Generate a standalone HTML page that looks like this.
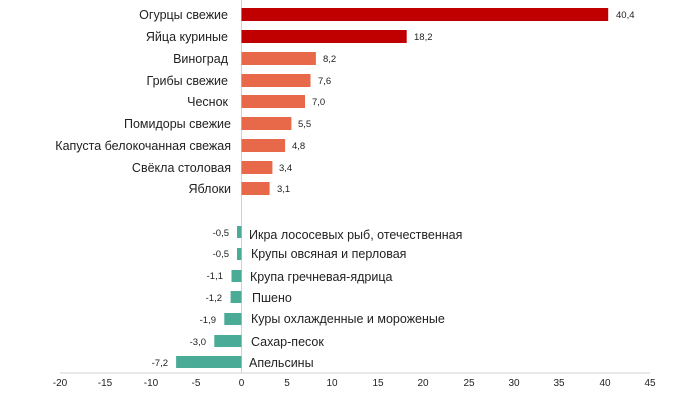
<!DOCTYPE html>
<html><head><meta charset="utf-8"><style>body{margin:0;background:#fff}svg{display:block}text{font-family:"Liberation Sans",sans-serif;fill:#222}</style></head><body>
<svg width="690" height="404" xmlns="http://www.w3.org/2000/svg">
<g id="bars"></g>
<line x1="241.5" y1="0" x2="241.5" y2="373" stroke="#d0d0d0" stroke-width="1"/>
<line x1="60" y1="373" x2="650" y2="373" stroke="#d0d0d0" stroke-width="1"/>
<g font-size="10" text-anchor="middle">
<text x="60" y="386">-20</text><text x="105" y="386">-15</text><text x="151" y="386">-10</text><text x="196" y="386">-5</text><text x="241.5" y="386">0</text><text x="287" y="386">5</text><text x="332" y="386">10</text><text x="378" y="386">15</text><text x="423" y="386">20</text><text x="469" y="386">25</text><text x="514" y="386">30</text><text x="559" y="386">35</text><text x="605" y="386">40</text><text x="650" y="386">45</text>
</g>
<g>
<rect x="241.5" y="8" width="366.7" height="13" fill="#c00000"/>
<rect x="241.5" y="30" width="165.2" height="13" fill="#c00000"/>
<rect x="241.5" y="52" width="74.4" height="13" fill="#e8694a"/>
<rect x="241.5" y="74" width="69" height="13" fill="#e8694a"/>
<rect x="241.5" y="95" width="63.5" height="13" fill="#e8694a"/>
<rect x="241.5" y="117" width="49.9" height="13" fill="#e8694a"/>
<rect x="241.5" y="139" width="43.6" height="13" fill="#e8694a"/>
<rect x="241.5" y="161" width="30.9" height="13" fill="#e8694a"/>
<rect x="241.5" y="182" width="28.1" height="13" fill="#e8694a"/>
<rect x="237" y="226" width="4.5" height="12" fill="#4aab96"/>
<rect x="237" y="248" width="4.5" height="12" fill="#4aab96"/>
<rect x="231.5" y="270" width="10" height="12" fill="#4aab96"/>
<rect x="230.6" y="291" width="10.9" height="12" fill="#4aab96"/>
<rect x="224.3" y="313" width="17.2" height="12" fill="#4aab96"/>
<rect x="214.3" y="335" width="27.2" height="12" fill="#4aab96"/>
<rect x="176.1" y="356" width="65.4" height="12" fill="#4aab96"/>
</g>
<g font-size="9.5">
<text x="616" y="18">40,4</text><text x="414" y="40">18,2</text><text x="323" y="62">8,2</text><text x="318" y="84">7,6</text><text x="312" y="105">7,0</text><text x="298" y="127">5,5</text><text x="292" y="149">4,8</text><text x="279" y="171">3,4</text><text x="277" y="192">3,1</text>
</g>
<g font-size="9.5" text-anchor="end">
<text x="229" y="236">-0,5</text><text x="229" y="257">-0,5</text><text x="223" y="279">-1,1</text><text x="222" y="301">-1,2</text><text x="216" y="323">-1,9</text><text x="206" y="345">-3,0</text><text x="168" y="366">-7,2</text>
</g>
<g font-size="12.5" text-anchor="end">
<text x="228" y="19">Огурцы свежие</text><text x="228" y="41">Яйца куриные</text><text x="228" y="63">Виноград</text><text x="228" y="85">Грибы свежие</text><text x="228" y="106">Чеснок</text><text x="231" y="128">Помидоры свежие</text><text x="231" y="150">Капуста белокочанная свежая</text><text x="231" y="172">Свёкла столовая</text><text x="231" y="193">Яблоки</text>
</g>
<g font-size="12.5">
<text x="249" y="239">Икра лососевых рыб, отечественная</text><text x="251" y="258">Крупы овсяная и перловая</text><text x="250" y="281">Крупа гречневая-ядрица</text><text x="252" y="302">Пшено</text><text x="251" y="323">Куры охлажденные и мороженые</text><text x="251" y="346">Сахар-песок</text><text x="249" y="367">Апельсины</text>
</g>
</svg>
</body></html>
